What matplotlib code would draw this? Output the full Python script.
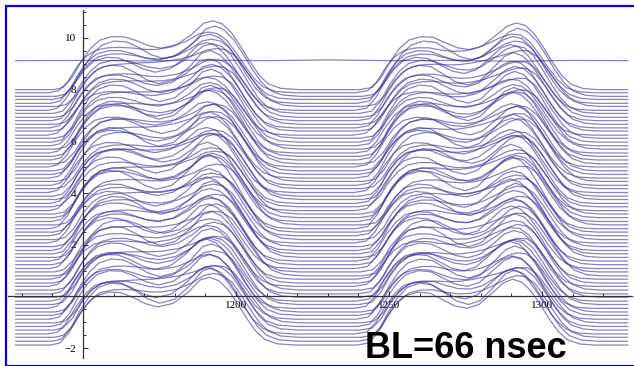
import numpy as np
import matplotlib
matplotlib.use('Agg')
import matplotlib.pyplot as plt
from matplotlib.patches import Rectangle
from matplotlib.ticker import FixedLocator

# time knots (ns) and the pulse template
t_knots = [1128, 1140, 1143, 1146, 1149, 1152, 1155, 1159, 1163, 1167, 1171, 1175,
           1180, 1185, 1189, 1192, 1195, 1198, 1201, 1204, 1207, 1210, 1214, 1220,
           1240, 1244, 1247, 1250, 1253, 1256, 1260, 1264, 1268, 1272, 1276, 1280,
           1284, 1288, 1291, 1294, 1297, 1300, 1303, 1306, 1309, 1313, 1318, 1328]
pulse = [0.00, 0.00, 0.08, 0.45, 1.05, 1.50, 1.78, 1.90, 1.90, 1.80, 1.66, 1.60,
         1.72, 2.05, 2.42, 2.50, 2.40, 2.10, 1.60, 1.05, 0.55, 0.22, 0.05, 0.00,
         0.00, 0.08, 0.45, 1.05, 1.50, 1.78, 1.90, 1.88, 1.72, 1.58, 1.55, 1.68,
         1.98, 2.30, 2.42, 2.35, 2.05, 1.55, 1.00, 0.52, 0.20, 0.04, 0.00, 0.00]
# difference between the flatter and the bumpier traces on the plateaus
wobble = [0.00, 0.00, 0.00, 0.04, 0.07, 0.14, 0.21, 0.25, 0.21, 0.07, -0.10, -0.21,
          -0.18, 0.00, 0.18, 0.21, 0.14, 0.07, 0.04, 0.00, 0.00, 0.00, 0.00, 0.00,
          0.00, 0.00, 0.04, 0.07, 0.14, 0.21, 0.25, 0.21, 0.07, -0.10, -0.21, -0.18,
          0.00, 0.18, 0.21, 0.14, 0.07, 0.04, 0.00, 0.00, 0.00, 0.00, 0.00, 0.00]

# one entry per trace: baseline level, pulse height, bumpiness, time offset
bases = [8.00, 7.88, 7.74, 7.62, 7.47, 7.35, 7.20, 7.08, 6.93, 6.80,
         6.66, 6.52, 6.40, 6.24, 6.12, 5.97, 5.83, 5.70, 5.55, 5.42,
         5.28, 5.13, 5.01, 4.86, 4.72, 4.58, 4.45, 4.30, 4.17, 4.02,
         3.88, 3.75, 3.60, 3.47, 3.32, 3.19, 3.05, 2.90, 2.77, 2.62,
         2.49, 2.35, 2.20, 2.07, 1.93, 1.78, 1.65, 1.51, 1.37, 1.23,
         1.08, 0.95, 0.80, 0.67, 0.52, 0.39, 0.25, 0.10, -0.03, -0.18,
         -0.31, -0.46, -0.60, -0.73, -0.88, -1.02, -1.16, -1.30, -1.45, -1.58,
         -1.73, -1.88]
amps = [1.04, 0.98, 1.02, 0.95, 1.06, 0.97, 1.00, 1.08, 0.93, 1.01,
        0.96, 1.05, 0.99, 0.92, 1.03, 1.07, 0.97, 1.00, 0.94, 1.04,
        1.09, 0.96, 1.01, 0.98, 1.05, 0.93, 1.02, 1.06, 0.95, 0.99,
        1.03, 0.97, 1.08, 0.94, 1.00, 1.04, 0.96, 1.02, 0.99, 1.07,
        0.93, 1.01, 1.05, 0.97, 1.00, 0.95, 1.06, 1.02, 0.98, 1.04,
        0.94, 1.00, 1.08, 0.96, 1.03, 0.99, 1.05, 0.97, 1.01, 0.95,
        1.06, 1.02, 0.98, 1.04, 1.00, 0.96, 1.07, 1.01, 0.97, 1.03,
        1.05, 1.00]
wobs = [0.3, -0.5, 0.8, -0.2, 0.1, -0.9, 0.6, 0.0, -0.4, 0.9,
        -0.7, 0.2, 0.5, -0.3, -0.8, 0.7, 0.1, -0.6, 0.4, -0.1,
        0.8, -0.4, 0.0, 0.6, -0.9, 0.3, -0.2, 0.9, -0.5, 0.2,
        -0.7, 0.5, 0.1, -0.3, 0.7, -0.8, 0.4, 0.0, -0.6, 0.9,
        -0.2, 0.3, -0.9, 0.6, -0.4, 0.1, 0.8, -0.5, 0.2, -0.1,
        0.7, -0.7, 0.4, -0.3, 0.9, -0.6, 0.0, 0.5, -0.8, 0.3,
        -0.2, 0.6, -0.4, 0.8, 0.1, -0.9, 0.5, -0.1, 0.7, -0.5,
        1.0, 0.6]
shifts = [0.5, -1.0, 1.2, 0.0, -0.6, 1.5, -1.4, 0.3, 0.9, -0.3,
          1.1, -0.8, 0.2, -1.6, 0.7, 0.0, -0.5, 1.3, -1.1, 0.4,
          -0.2, 1.0, -1.3, 0.6, 0.1, -0.9, 1.4, -0.4, 0.8, -1.5,
          0.3, 1.2, -0.7, 0.0, -1.2, 0.9, 0.5, -0.1, 1.6, -1.0,
          0.2, -0.6, 1.1, -1.4, 0.7, -0.3, 0.4, 1.3, -0.8, 0.0,
          -1.1, 0.6, 1.5, -0.5, 0.2, -1.3, 0.9, -0.2, 1.0, -0.7,
          0.3, -1.5, 0.8, 0.1, -0.9, 1.2, -0.4, 0.5, -1.2, 0.7,
          0.0, -0.6]

# the single trace without pulses
flat_x = [1128, 1150, 1170, 1190, 1210, 1230, 1250, 1270, 1290, 1310, 1328]
flat_y = [9.12, 9.13, 9.11, 9.14, 9.12, 9.15, 9.12, 9.13, 9.10, 9.13, 9.12]

x_labels = [1200, 1250, 1300]
y_labels = [-2, 2, 4, 6, 8, 10]

W, H = 634, 366
fig = plt.figure(figsize=(W / 100, H / 100), dpi=100)
fig.patch.set_facecolor('white')
ax = fig.add_axes([8 / W, 8 / H, 624 / W, 348 / H])

line_col = '#34349a'
t = np.array(t_knots, dtype=float)
p = np.array(pulse)
w = np.array(wobble)
for b, a, k, s in zip(bases, amps, wobs, shifts):
  tt = t + s
  tt[0], tt[-1] = t[0], t[-1]
  ax.plot(tt, b + a * p + k * w, color=line_col, alpha=0.6, lw=0.9)
ax.plot(flat_x, flat_y, color=line_col, alpha=0.6, lw=0.9)

ax.set_xlim(1125.5, 1329.4)
ax.set_ylim(-2.38, 11.08)

# Mathematica style axes crossing at (1150, 0)
ax.spines['left'].set_position(('data', 1150))
ax.spines['bottom'].set_position(('data', 0))
ax.spines['top'].set_visible(False)
ax.spines['right'].set_visible(False)
for sp in ['left', 'bottom']:
  ax.spines[sp].set_color('#333333')
  ax.spines[sp].set_linewidth(0.9)
  ax.spines[sp].set_zorder(5)

ax.xaxis.set_major_locator(FixedLocator(x_labels))
ax.xaxis.set_minor_locator(FixedLocator(np.arange(1130, 1330, 10)))
ax.yaxis.set_major_locator(FixedLocator(y_labels))
ax.yaxis.set_minor_locator(FixedLocator(np.arange(-2, 11.01, 0.5)))
ax.tick_params(which='major', direction='in', length=3.5, width=0.8, color='#333333',
               labelsize=8, pad=3)
ax.tick_params(which='minor', direction='in', length=2, width=0.7, color='#333333')
ax.tick_params(axis='y', which='major', pad=5)
for lab in ax.get_xticklabels() + ax.get_yticklabels():
  lab.set_family('Liberation Serif')
ax.patch.set_alpha(0)

fig.text(365 / W, 0.5 / H, 'BL=66 nsec', fontsize=26, fontweight='bold',
         family='Liberation Sans', ha='left', va='bottom')

# blue frame round the slide picture
fig.patches.append(Rectangle((6 / W, 0.5 / H), 1.05, 1 - 6.5 / H, transform=fig.transFigure,
                             fill=False, edgecolor='#0000ff', lw=1.6, zorder=10))

fig.savefig('out.png', dpi=100)
